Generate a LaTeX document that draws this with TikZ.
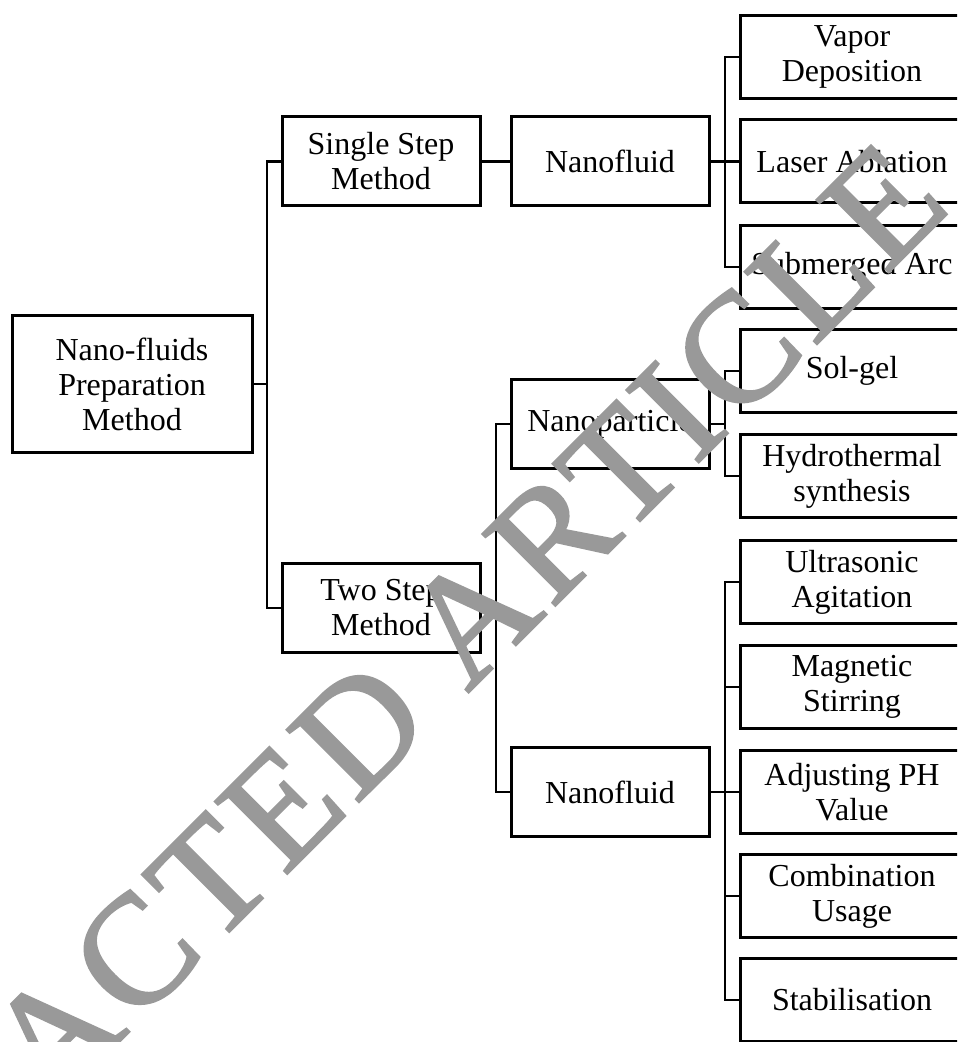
\documentclass[tikz,border=0pt]{standalone}
\usepackage{fontspec}
\setmainfont{Liberation Serif}
\newfontfamily\stampfont[FakeBold=1.6,LetterSpace=4]{Liberation Serif}
\definecolor{stampgray}{HTML}{999999}
\tikzset{
  box/.style={draw,line width=1.5pt,align=center,inner sep=0pt,
    font=\fontsize{16}{17.5}\selectfont},
  rootbox/.style={box,minimum width=120pt,minimum height=68pt},
  midbox/.style={box,minimum width=99pt,minimum height=44.5pt},
  leaf/.style={box,minimum width=112pt,minimum height=41.5pt},
  link/.style={line width=1.2pt},
}
\begin{document}
\begin{tikzpicture}[x=0.5pt,y=-0.5pt]
  \clip (0,0) rectangle (957,1042);

  \node[rootbox] (root) at (132,384) {Nano-fluids\\Preparation\\Method};
  \node[midbox] (single) at (381,161.5) {Single Step\\Method};
  \node[midbox] (two) at (381,608) {Two Step\\Method};
  \node[midbox] (nf1) at (610,161.5) {Nanofluid};
  \node[midbox] (np) at (610,424) {Nanoparticle};
  \node[midbox] (nf2) at (610,792) {Nanofluid};

  \foreach \n/\y/\t in {l1/57/{Vapor\\Deposition},l2/161.5/{Laser Ablation},
      l3/267/{Submerged Arc},l4/371/{Sol-gel},l5/476/{Hydrothermal\\synthesis},
      l6/582/{Ultrasonic\\Agitation},l7/687/{Magnetic\\Stirring},
      l8/792/{Adjusting PH\\Value},l9/896/{Combination\\Usage},l10/1000/{Stabilisation}}
    \node[leaf] (\n) at (852,\y) {\t};

  \coordinate (b1) at (267,0);
  \coordinate (b2) at (496,0);
  \coordinate (b3) at (725,0);

  \draw[link] (root.east) -- (root.east -| b1);
  \draw[link] (single.west) -| (b1 |- two.west) -- (two.west);
  \draw[link] (single.east) -- (nf1.west);
  \draw[link] (two.east) -- (two.east -| b2);
  \draw[link] (np.west) -| (b2 |- nf2.west) -- (nf2.west);

  \draw[link] (nf1.east) -- (l2.west);
  \draw[link] (l1.west) -| (b3 |- l3.west) -- (l3.west);
  \draw[link] (np.east) -- (np.east -| b3);
  \draw[link] (l4.west) -| (b3 |- l5.west) -- (l5.west);
  \draw[link] (nf2.east) -- (l8.west);
  \draw[link] (l6.west) -| (b3 |- l10.west) -- (l10.west);
  \foreach \n in {l7,l9}
    \draw[link] (\n.west -| b3) -- (\n.west);

  \node[text=stampgray,rotate=45,inner sep=0pt,font=\fontsize{78}{78}\stampfont]
    (stamp) at (316,773) {RETRACTED ARTICLE};
\end{tikzpicture}
\end{document}
